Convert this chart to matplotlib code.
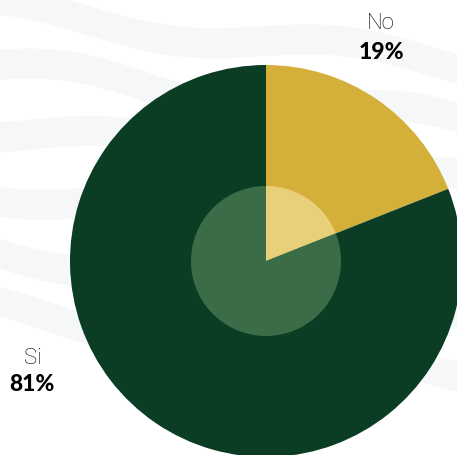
import numpy as np
import matplotlib.pyplot as plt

# Survey answer shares (percent)
labels = ["No", "Si"]
shares = [19, 81]
colors = ["#d4b03a", "#0a3d23"]
inner_colors = ["#e8d07a", "#3a6c48"]

W, H = 457, 456
fig = plt.figure(figsize=(W / 100, H / 100), dpi=100)
fig.patch.set_facecolor("white")
ax = fig.add_axes([0, 0, 1, 1])

# faint decorative wave bands in the background
bg = "#f6f7f8"
xs = np.linspace(-20, W + 20, 300)
for base, amp in [(430, 10), (370, 12), (310, 12), (250, 12), (190, 12), (130, 12)]:
    y1 = base + amp * np.sin((xs + base) / 55.0) - 0.12 * xs
    ax.fill_between(xs, y1, y1 + 30, color=bg, lw=0, zorder=0)

center = (266, H - 262)
radius = 196

ax.pie(shares, colors=colors, startangle=90, counterclock=False,
       radius=radius, center=center, frame=True,
       wedgeprops=dict(linewidth=0, zorder=2))
ax.pie(shares, colors=inner_colors, startangle=90, counterclock=False,
       radius=75, center=center, frame=True,
       wedgeprops=dict(linewidth=0, zorder=3))

ax.set_xlim(0, W)
ax.set_ylim(0, H)
ax.set_aspect("equal")
ax.axis("off")

name_style = dict(ha="center", va="center", fontsize=16, fontfamily="Roboto",
                  fontweight="light", color="#000000", zorder=5)
pct_style = dict(ha="center", va="center", fontsize=16.5, fontfamily="Lato",
                 fontweight="black", color="#000000", zorder=5)

ax.text(381, H - 23, labels[0], **name_style)
ax.text(381, H - 52, f"{shares[0]}%", **pct_style)
ax.text(33, H - 358, labels[1], **name_style)
ax.text(32, H - 385, f"{shares[1]}%", **pct_style)

fig.savefig("out.png", dpi=100, facecolor="white")
